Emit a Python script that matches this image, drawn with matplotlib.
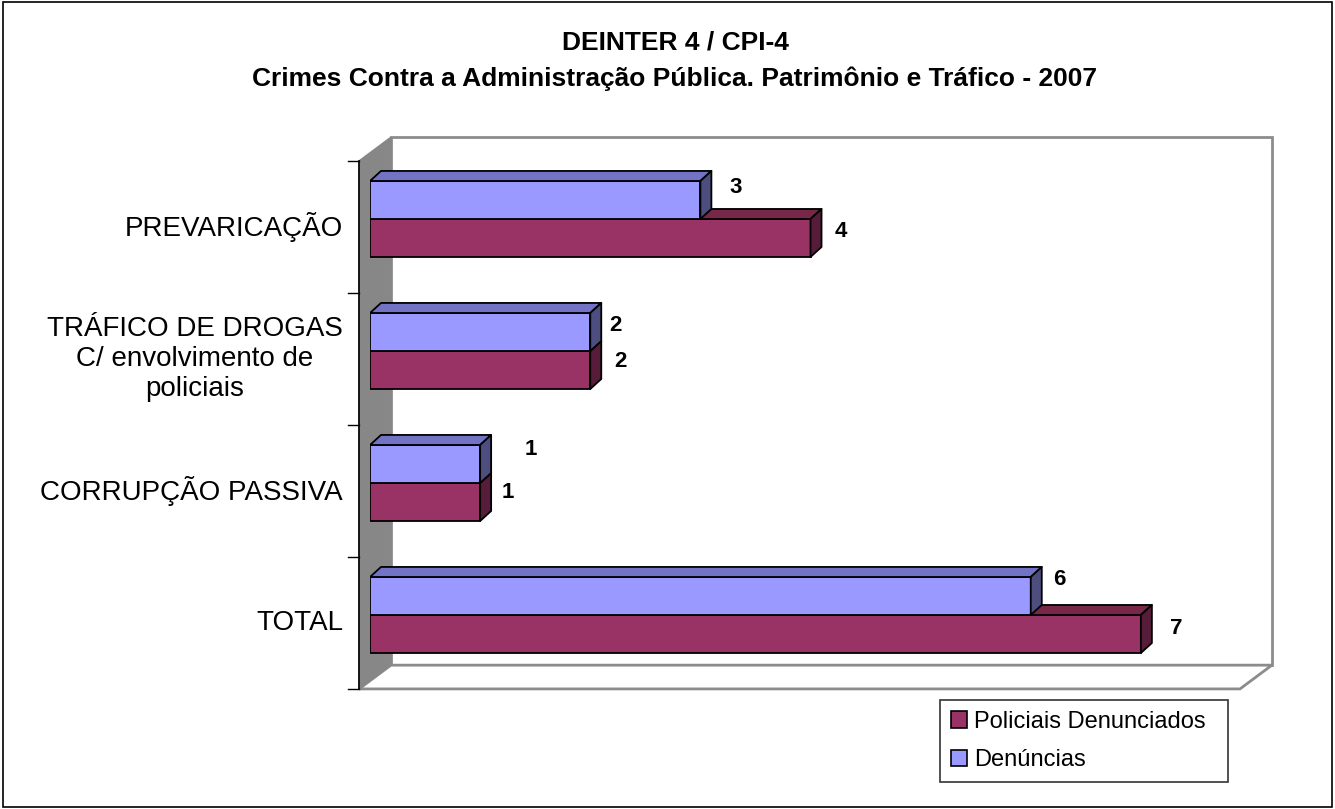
import matplotlib
matplotlib.use("Agg")
import matplotlib.pyplot as plt
from matplotlib.patches import Polygon, Patch, Rectangle
import numpy as np

plt.rcParams['font.family'] = ['Liberation Sans', 'DejaVu Sans']

# Data (top to bottom as shown)
categories = ["PREVARICAÇÃO",
              "TRÁFICO DE DROGAS\nC/ envolvimento de\npoliciais",
              "CORRUPÇÃO PASSIVA",
              "TOTAL"]
denuncias = [3, 2, 1, 6]
policiais = [4, 2, 1, 7]
series_names = ["Policiais Denunciados", "Denúncias"]
title_1 = "DEINTER 4 / CPI-4"
title_2 = "Crimes Contra a Administração Pública. Patrimônio e Tráfico - 2007"

# Colours (front, top, side)
blue = ("#9999FF", "#7373C6", "#4D4D80")
red = ("#993366", "#772848", "#561C39")
wall_grey = "#878787"
line_grey = "#8C8C8C"

# label nudges in pixels (x right, y up)
blue_nudge = [(35, 12), (25, 6), (51, 14), (29, 16)]
red_nudge = [(30, 7), (30, 9), (28, 10), (35, 6)]

fig = plt.figure(figsize=(13.35, 8.09), dpi=100)
fig.patch.set_facecolor("white")

# outer frame
fig.add_artist(Rectangle((0.002, 0.003), 0.996, 0.994, transform=fig.transFigure,
                         fill=False, edgecolor="black", linewidth=1.2))

# axes = plane of the bar front faces
ax = fig.add_axes([370 / 1335, 1 - 681 / 809, 881 / 1335, 528 / 809])
ax.set_xlim(0, 8)
ax.set_ylim(-0.5, 3.5)
ax.axis("off")

xmax = 8
fx, fy = -0.1, -0.06   # front plane offset
bx, by = 0.19, 0.12    # back plane offset
ddx, ddy = 0.1, 0.076  # bar depth
h = 0.288

ypos = np.arange(len(categories))[::-1]

# back wall
ax.add_patch(Rectangle((bx, -0.5 + by), xmax, 4, facecolor="white",
                       edgecolor=line_grey, linewidth=2, zorder=1, clip_on=False))
# floor
ax.add_patch(Polygon([(fx, -0.5 + fy), (xmax + fx, -0.5 + fy),
                      (xmax + bx, -0.5 + by), (bx, -0.5 + by)],
                     closed=True, facecolor="white", edgecolor=line_grey,
                     linewidth=2, zorder=1.5, clip_on=False))
# left wall
ax.add_patch(Polygon([(fx, 3.5 + fy), (bx, 3.5 + by), (bx, -0.5 + by), (fx, -0.5 + fy)],
                     closed=True, facecolor=wall_grey, edgecolor=wall_grey,
                     linewidth=1, zorder=2, clip_on=False))
ax.plot([fx, fx], [-0.5 + fy, 3.5 + fy], color="black", linewidth=1.2,
        zorder=2.5, clip_on=False)
for k in range(len(categories) + 1):
    ax.plot([fx - 0.1, fx], [k - 0.5 + fy, k - 0.5 + fy], color="black",
            linewidth=1, zorder=2.5, clip_on=False)

# category labels
for y, lab in zip(ypos, categories):
    ax.text(fx - 0.145, y + fy, lab, ha="right", va="center", multialignment="center",
            fontsize=20, linespacing=1.2, clip_on=False)


def bar3d(values, base, cols, z):
    ax.barh(ypos + base, values, height=h, align="edge", color=cols[0],
            edgecolor="black", linewidth=1.3, zorder=z)
    for y, v in zip(ypos, values):
        y0 = y + base
        top = [(0, y0 + h), (v, y0 + h), (v + ddx, y0 + h + ddy), (ddx, y0 + h + ddy)]
        side = [(v, y0), (v + ddx, y0 + ddy), (v + ddx, y0 + h + ddy), (v, y0 + h)]
        ax.add_patch(Polygon(top, closed=True, facecolor=cols[1], edgecolor="black",
                             linewidth=1.3, zorder=z, joinstyle="round"))
        ax.add_patch(Polygon(side, closed=True, facecolor=cols[2], edgecolor="black",
                             linewidth=1.3, zorder=z, joinstyle="round"))


bar3d(policiais, -h, red, 3)
bar3d(denuncias, 0, blue, 4)

# value labels
for y, v, (nx, ny) in zip(ypos, denuncias, blue_nudge):
    ax.annotate(str(v), (v, y + h / 2), xytext=(nx, ny), textcoords="offset pixels",
                ha="center", va="center", fontsize=16, fontweight="bold", zorder=6)
for y, v, (nx, ny) in zip(ypos, policiais, red_nudge):
    ax.annotate(str(v), (v, y - h / 2), xytext=(nx, ny), textcoords="offset pixels",
                ha="center", va="center", fontsize=16, fontweight="bold", zorder=6)

# titles
fig.text(675 / 1335, 1 - 42 / 809, title_1, ha="center", va="center",
         fontsize=19, fontweight="bold")
fig.text(675 / 1335, 1 - 79 / 809, title_2, ha="center", va="center",
         fontsize=19, fontweight="bold")

# legend
handles = [Patch(facecolor=red[0], edgecolor="black", linewidth=1.2),
           Patch(facecolor=blue[0], edgecolor="black", linewidth=1.2)]
leg = fig.legend(handles, series_names, loc="upper left",
                 bbox_to_anchor=(940 / 1335, 1 - 700 / 809, 288 / 1335, 0.0),
                 mode="expand", fontsize=17,
                 frameon=True, fancybox=False, handlelength=0.7, handleheight=0.7,
                 handletextpad=0.3, borderpad=0.45, labelspacing=0.7, borderaxespad=0)
leg.get_frame().set_edgecolor("black")
leg.get_frame().set_linewidth(1.2)

fig.savefig("out.png", dpi=100, facecolor="white")
